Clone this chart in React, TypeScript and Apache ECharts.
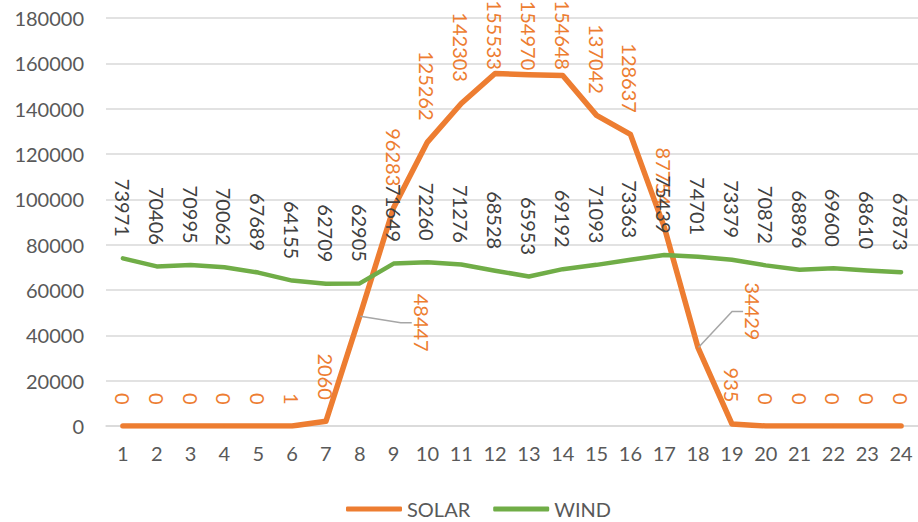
import React, { useEffect, useRef } from "react";
import * as echarts from "echarts";

// Hour of day (1..24)
const hours: string[] = Array.from({ length: 24 }, (_, i) => String(i + 1));

// Hourly generation
const solarValues: number[] = [
  0, 0, 0, 0, 0, 1, 2060, 48447, 96283, 125262, 142303, 155533,
  154970, 154648, 137042, 128637, 87754, 34429, 935, 0, 0, 0, 0, 0,
];
const windValues: number[] = [
  73971, 70406, 70995, 70062, 67689, 64155, 62709, 62905, 71649, 72260, 71276, 68528,
  65953, 69192, 71093, 73363, 75439, 74701, 73379, 70872, 68896, 69600, 68610, 67873,
];

const yTicks = { min: 0, max: 180000, interval: 20000 };

const FONT = "Lato, 'Open Sans', sans-serif";
const ORANGE = "#ED7D31";
const GREEN = "#70AD47";

// label tweaks for a few solar points (moved labels get a leader line).
// Offsets are in the label's rotated frame: [down, left].
const solarLabelTweaks: Record<number, any> = {
  7: { label: { offset: [57, -62] }, labelLine: { show: true } },
  11: { label: { distance: 3 } },
  12: { label: { distance: 4 } },
  13: { label: { distance: 5 } },
  17: { label: { offset: [14, -55] }, labelLine: { show: true } },
};

export default function App() {
  const ref = useRef<HTMLDivElement>(null);

  useEffect(() => {
    if (!ref.current) return;
    const chart = echarts.init(ref.current, undefined, { renderer: "svg" });

    const baseLabel = (color: string) => ({
      show: true,
      position: "top",
      distance: 21,
      rotate: -90,
      align: "right",
      verticalAlign: "middle",
      color,
      fontFamily: FONT,
      fontSize: 20,
    });

    const solarData = solarValues.map((v, i) =>
      solarLabelTweaks[i] ? { value: v, ...solarLabelTweaks[i] } : v
    );

    chart.setOption({
      animation: false,
      backgroundColor: "#ffffff",
      grid: { left: 106, top: 18, width: 817, height: 408, containLabel: false },
      legend: {
        data: ["SOLAR", "WIND"],
        left: 341,
        top: 494,
        icon: "roundRect",
        itemWidth: 56,
        itemHeight: 5,
        itemGap: 23,
        textStyle: { color: "#595959", fontFamily: FONT, fontSize: 20 },
      },
      xAxis: {
        type: "category",
        data: hours,
        boundaryGap: true,
        axisLine: { lineStyle: { color: "#D9D9D9", width: 1.5 } },
        axisTick: { show: false },
        axisLabel: { color: "#595959", fontFamily: FONT, fontSize: 20, margin: 17 },
      },
      yAxis: {
        type: "value",
        min: yTicks.min,
        max: yTicks.max,
        interval: yTicks.interval,
        axisLine: { show: false },
        axisTick: { show: false },
        splitLine: { lineStyle: { color: "#D9D9D9", width: 1.5 } },
        axisLabel: {
          color: "#595959",
          fontFamily: FONT,
          fontSize: 20,
          margin: 22,
          formatter: (v: number) => String(v),
        },
      },
      series: [
        {
          name: "SOLAR",
          type: "line",
          data: solarData,
          symbol: "circle",
          symbolSize: 1,
          itemStyle: { color: ORANGE },
          lineStyle: { color: ORANGE, width: 5.5, join: "round", cap: "round" },
          label: baseLabel(ORANGE),
          labelLine: { show: false, length2: 11, lineStyle: { color: "#A6A6A6", width: 1.5 } },
        },
        {
          name: "WIND",
          type: "line",
          data: windValues,
          symbol: "circle",
          symbolSize: 1,
          itemStyle: { color: GREEN },
          lineStyle: { color: GREEN, width: 4.5, join: "round", cap: "round" },
          label: baseLabel("#404040"),
        },
      ],
    });

    return () => chart.dispose();
  }, []);

  return (
    <div
      ref={ref}
      style={{ position: "fixed", left: 0, top: 0, width: 918, height: 522, background: "#fff" }}
    />
  );
}
